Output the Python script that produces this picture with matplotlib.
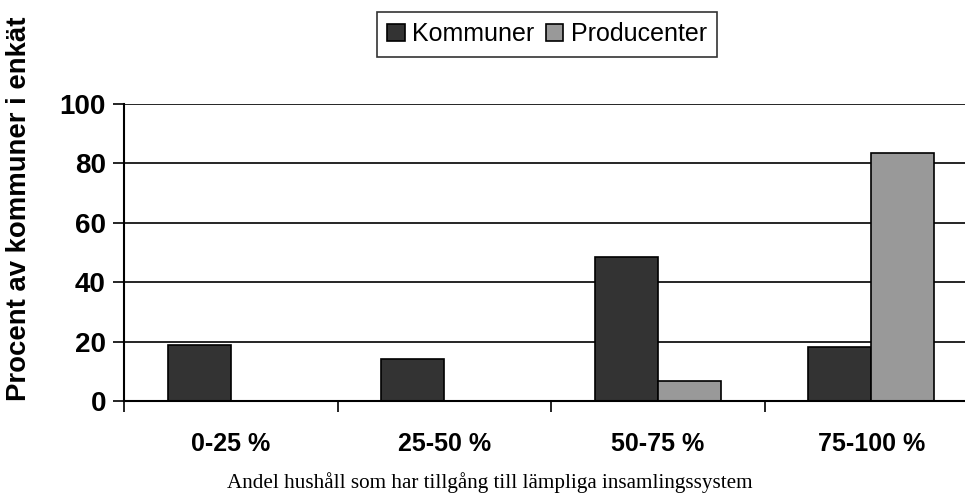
import matplotlib.pyplot as plt
import numpy as np

categories = ["0-25 %", "25-50 %", "50-75 %", "75-100 %"]
kommuner = [19, 14, 48.4, 18.1]
producenter = [0, 0, 6.7, 83.4]
series_names = ["Kommuner", "Producenter"]
yticks = [0, 20, 40, 60, 80, 100]

plt.rcParams["font.family"] = ["Liberation Sans", "DejaVu Sans"]

fig = plt.figure(figsize=(9.65, 4.95), dpi=100)
# plot area runs past the right edge of the picture, as in the original
ax = fig.add_axes([124 / 965, 94 / 495, 854 / 965, 297 / 495])

x = np.arange(len(categories))
width = 0.295
ax.bar(x - width, kommuner, width, align="edge", color="#333333",
       edgecolor="black", linewidth=1.2, label=series_names[0], zorder=3)
ax.bar(x, producenter, width, align="edge", color="#999999",
       edgecolor="black", linewidth=1.2, label=series_names[1], zorder=3)

ax.set_xlim(-0.5, len(categories) - 0.5)
ax.set_ylim(0, 100)

ax.set_yticks(yticks)
ax.set_yticklabels([str(v) for v in yticks], fontsize=20, fontweight="bold")
ax.tick_params(axis="y", direction="out", length=8, width=1.2, pad=5)

ax.set_xticks(x)
ax.set_xticklabels(categories, fontsize=18, fontweight="bold")
ax.tick_params(axis="x", which="major", length=0, pad=22)
ax.set_xticks(np.arange(-0.5, len(categories) - 0.5, 1), minor=True)
ax.tick_params(axis="x", which="minor", direction="out", length=8, width=1.2)

for v in yticks[1:]:
    ax.axhline(v, color="black", linewidth=1.2, zorder=1)

for side in ["top", "right"]:
    ax.spines[side].set_visible(False)
for side in ["left", "bottom"]:
    ax.spines[side].set_linewidth(1.5)
    ax.spines[side].set_zorder(4)

fig.text(19 / 965, 1 - 209 / 495, "Procent av kommuner i enkät", rotation=90,
         ha="center", va="center", fontsize=19.8, fontweight="bold")
fig.text(490 / 965, 1 - 483 / 495,
         "Andel hushåll som har tillgång till lämpliga insamlingssystem",
         ha="center", va="center", fontsize=15.2,
         family=["Liberation Serif", "DejaVu Serif"])

leg = fig.legend(loc="center", bbox_to_anchor=(547 / 965, 1 - 34 / 495),
                 ncol=2, fontsize=18, frameon=True, fancybox=False,
                 handlelength=0.7, handleheight=0.7, handletextpad=0.3,
                 columnspacing=0.45, borderpad=0.42, borderaxespad=0)
leg.get_frame().set_edgecolor("black")
leg.get_frame().set_linewidth(1.2)

fig.savefig("out.png", dpi=100)
